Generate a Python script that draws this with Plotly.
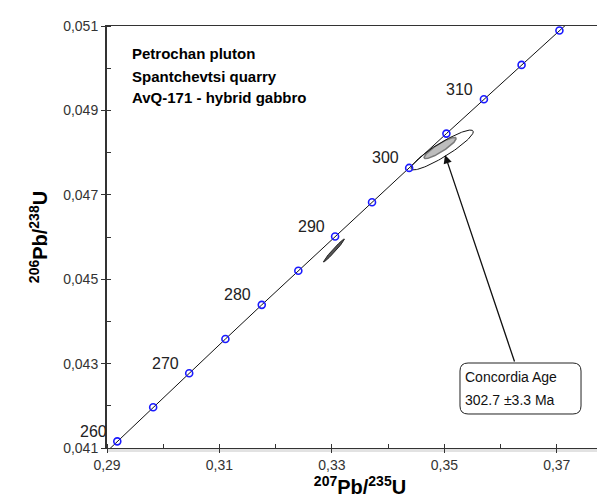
import numpy as np
import plotly.graph_objects as go

# ---------------- data ----------------
ages = [260, 265, 270, 275, 280, 285, 290, 295, 300, 305, 310, 315, 320]
pb207_u235 = [0.29183, 0.29821, 0.30462, 0.31106, 0.31753, 0.32403, 0.33057,
              0.33714, 0.34374, 0.35037, 0.35704, 0.36374, 0.37047]
pb206_u238 = [0.041157, 0.041965, 0.042773, 0.043582, 0.044392, 0.045202, 0.046013,
              0.046825, 0.047637, 0.048450, 0.049263, 0.050078, 0.050893]
# concordia curve ends (255 Ma and 325 Ma), clipped by the axes
curve_start = (0.28549, 0.040350)
curve_end = (0.37724, 0.051708)

label_ages = [260, 270, 280, 290, 300, 310]

# error ellipses: centre x, centre y, sigma x, sigma y, rho
ell_outer = (0.34961, 0.048062, 0.005535, 0.000472, 0.913)
ell_age = (0.34925, 0.048109, 0.002856, 0.000251, 0.896)
ell_small = (0.33036, 0.045680, 0.001873, 0.000273, 0.982)

x_ticks = [0.29, 0.31, 0.33, 0.35, 0.37]
x_ticktext = ["0,29", "0,31", "0,33", "0,35", "0,37"]
y_ticks = [0.041, 0.043, 0.045, 0.047, 0.049, 0.051]
y_ticktext = ["0,041", "0,043", "0,045", "0,047", "0,049", "0,051"]

title_lines = ["Petrochan pluton", "Spantchevtsi quarry", "AvQ-171 - hybrid gabbro"]
age_box_lines = ["Concordia Age", "302.7 \u00b13.3 Ma"]
age_point = (0.35012, 0.047943)


def ellipse(cx, cy, sx, sy, rho, n=120):
    t = np.linspace(0, 2 * np.pi, n)
    ex = cx + sx * np.cos(t)
    ey = cy + sy * (rho * np.cos(t) + np.sqrt(1 - rho ** 2) * np.sin(t))
    return ex, ey


FONT = "Arial, Liberation Sans, sans-serif"

fig = go.Figure()

# ellipses
ex, ey = ellipse(*ell_small)
fig.add_trace(go.Scatter(x=ex, y=ey, mode="lines", fill="toself", fillcolor="#555555",
                         line=dict(color="#222222", width=1), hoverinfo="skip"))
ex, ey = ellipse(*ell_age)
fig.add_trace(go.Scatter(x=ex, y=ey, mode="lines", fill="toself", fillcolor="#bdbdbd",
                         line=dict(color="#7a7a7a", width=1.5), hoverinfo="skip"))
ex, ey = ellipse(*ell_outer)
fig.add_trace(go.Scatter(x=ex, y=ey, mode="lines",
                         line=dict(color="#111111", width=1), hoverinfo="skip"))

# concordia curve
fig.add_trace(go.Scatter(x=[curve_start[0]] + pb207_u235 + [curve_end[0]],
                         y=[curve_start[1]] + pb206_u238 + [curve_end[1]],
                         mode="lines", line=dict(color="#111111", width=1),
                         hoverinfo="skip"))
fig.add_trace(go.Scatter(x=pb207_u235, y=pb206_u238, mode="markers",
                         marker=dict(symbol="circle-open", size=7, color="#1a1aff",
                                     line=dict(width=1.6)),
                         cliponaxis=False, hoverinfo="skip"))

annotations = []
for a in label_ages:
    i = ages.index(a)
    annotations.append(dict(x=pb207_u235[i], y=pb206_u238[i], text=str(a), showarrow=False,
                            xshift=-24, yshift=10, font=dict(family=FONT, size=16, color="#222")))

for line, yy in zip(title_lines, [0.936, 0.8815, 0.8294]):
    annotations.append(dict(x=0.0474, y=yy, xref="paper", yref="paper", text="<b>%s</b>" % line,
                            showarrow=False, xanchor="left", yanchor="middle", borderpad=0,
                            font=dict(family=FONT, size=15, color="#000")))

for line, yy in zip(age_box_lines, [0.1682, 0.1137]):
    annotations.append(dict(x=0.7055, y=yy, xref="paper", yref="paper", text=line,
                            showarrow=False, xanchor="left", yanchor="middle", borderpad=0,
                            font=dict(family=FONT, size=14, color="#111")))

annotations.append(dict(x=age_point[0], y=age_point[1], text="", showarrow=True,
                        ax=70, ay=208, arrowhead=2, arrowsize=1.3, arrowwidth=1.3,
                        arrowcolor="#111"))

# rounded box (paper coords)
x0, x1, y0, y1 = 0.6976, 0.9368, 0.0806, 0.2014
rx, ry = 0.016, 0.019
path = (f"M {x0+rx},{y1} L {x1-rx},{y1} Q {x1},{y1} {x1},{y1-ry} L {x1},{y0+ry} "
        f"Q {x1},{y0} {x1-rx},{y0} L {x0+rx},{y0} Q {x0},{y0} {x0},{y0+ry} "
        f"L {x0},{y1-ry} Q {x0},{y1} {x0+rx},{y1} Z")
shapes = [dict(type="path", xref="paper", yref="paper", path=path,
               line=dict(color="#222", width=1), fillcolor="white"),
          dict(type="line", xref="paper", yref="paper", x0=0, x1=1, y0=-0.006, y1=-0.006,
               line=dict(color="#e2e2e2", width=3), layer="below")]

fig.update_layout(
    width=605, height=503,
    margin=dict(l=99, r=0, t=18, b=63, autoexpand=False),
    paper_bgcolor="white", plot_bgcolor="white",
    showlegend=False,
    annotations=annotations,
    shapes=shapes,
    xaxis=dict(range=[0.29, 0.38], tickvals=x_ticks, ticktext=x_ticktext, automargin=False,
               ticks="outside", ticklen=4, tickcolor="#333", tickwidth=1.2,
               minor=dict(tick0=0.29, dtick=0.01, ticks="inside", ticklen=4,
                          tickcolor="#333", tickwidth=1.2),
               showline=True, linecolor="#333", linewidth=1, mirror=True,
               showgrid=False, zeroline=False,
               tickfont=dict(family=FONT, size=14, color="#333"),
               title=dict(text="<b><sup>207</sup>Pb/<sup>235</sup>U</b>",
                          font=dict(family=FONT, size=20, color="#000"), standoff=8)),
    yaxis=dict(range=[0.041, 0.051], tickvals=y_ticks, ticktext=y_ticktext, automargin=False,
               ticks="outside", ticklen=4, tickcolor="#333", tickwidth=1.2,
               minor=dict(tick0=0.041, dtick=0.001, ticks="inside", ticklen=4,
                          tickcolor="#333", tickwidth=1.2),
               showline=True, linecolor="#333", linewidth=2,
               showgrid=False, zeroline=False,
               tickfont=dict(family=FONT, size=14, color="#333"),
               title=dict(text="<b><sup>206</sup>Pb/<sup>238</sup>U</b>",
                          font=dict(family=FONT, size=20, color="#000"), standoff=10)),
)

fig.write_html("out.html")
